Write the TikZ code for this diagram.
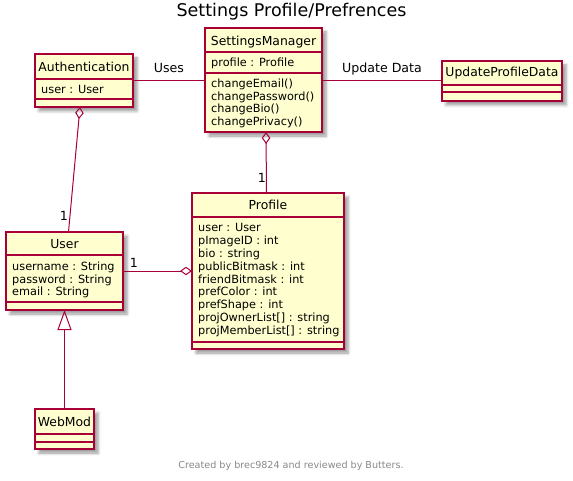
\documentclass[tikz,border=0pt]{standalone}
\usepackage{fontspec}
\setmainfont{DejaVu Sans}
\usetikzlibrary{arrows.meta,shadows.blur}
\definecolor{umlborder}{HTML}{A80036}
\definecolor{umlfill}{HTML}{FEFECE}
\definecolor{footgray}{HTML}{888888}
\begin{document}
\begin{tikzpicture}[x=1pt,y=-1pt,
  cls/.style={draw=umlborder, fill=umlfill, line width=1.5pt, anchor=north west,
    inner sep=0pt, outer sep=0pt,
    blur shadow={shadow xshift=4pt, shadow yshift=-4pt, shadow blur radius=3pt, shadow opacity=40}},
  divline/.style={draw=umlborder, line width=1.5pt},
  cname/.style={anchor=base, inner sep=0pt, font=\fontsize{12.4}{14}\selectfont},
  attr/.style={anchor=base west, inner sep=0pt, font=\fontsize{11.3}{12.8}\selectfont},
  conn/.style={draw=umlborder, line width=1pt},
  lbl/.style={anchor=base, inner sep=0pt, font=\fontsize{12.6}{14}\selectfont},
  agg/.style={{Diamond[open,length=12pt,width=8.5pt]}-},
  gen/.style={-{Triangle[open,length=20pt,width=14pt]}}
]
\useasboundingbox (0,0) rectangle (573,481);

% title
\node[anchor=base, inner sep=0pt, font=\fontsize{17.5}{20}\selectfont] (title) at (291.5,17) {Settings Profile/Prefrences};

% Authentication
\node[cls, minimum width=98pt, minimum height=53pt] (auth) at (35,54) {};
\draw[divline] (35,79) -- (133,79);
\draw[divline] (35,99) -- (133,99);
\node[cname] (authn) at (84,71.3) {Authentication};
\node[attr] (autha) at (41,93.3) {\begin{tabular}[t]{@{}l@{}}user : User\end{tabular}};

% SettingsManager
\node[cls, minimum width=117pt, minimum height=104pt] (sm) at (205,28) {};
\draw[divline] (205,52) -- (322,52);
\draw[divline] (205,73) -- (322,73);
\node[cname] (smn) at (263.5,45.3) {SettingsManager};
\node[attr] (sma) at (211,66.8) {\begin{tabular}[t]{@{}l@{}}profile : Profile\end{tabular}};
\node[attr] (smm) at (211,87.3) {\begin{tabular}[t]{@{}l@{}}changeEmail()\\changePassword()\\changeBio()\\changePrivacy()\end{tabular}};

% UpdateProfileData
\node[cls, minimum width=120pt, minimum height=40pt] (upd) at (442,61) {};
\draw[divline] (442,85) -- (562,85);
\draw[divline] (442,92) -- (562,92);
\node[cname] (updn) at (502,76.7) {UpdateProfileData};

% User
\node[cls, minimum width=117pt, minimum height=78pt] (user) at (6,232) {};
\draw[divline] (6,255) -- (123,255);
\draw[divline] (6,302) -- (123,302);
\node[cname] (usern) at (64.5,248.3) {User};
\node[attr] (usera) at (12,270.3) {\begin{tabular}[t]{@{}l@{}}username : String\\password : String\\email : String\end{tabular}};

% Profile
\node[cls, minimum width=152pt, minimum height=156pt] (profile) at (192,193) {};
\draw[divline] (192,217) -- (344,217);
\draw[divline] (192,342) -- (344,342);
\node[cname] (profilen) at (268,209.5) {Profile};
\node[attr] (profilea) at (198,232) {\begin{tabular}[t]{@{}l@{}}user : User\\pImageID : int\\bio : string\\publicBitmask : int\\friendBitmask : int\\prefColor : int\\prefShape : int\\projOwnerList[] : string\\projMemberList[] : string\end{tabular}};

% WebMod
\node[cls, minimum width=59pt, minimum height=40pt] (webmod) at (35,409) {};
\draw[divline] (35,434) -- (94,434);
\draw[divline] (35,442) -- (94,442);
\node[cname] (webmodn) at (64.5,426) {WebMod};

% connectors
\draw[conn] (auth.east) -- (auth.east -| sm.west);
\node[lbl] (uses) at (169,73) {Uses};
\draw[conn] (upd.west -| sm.east) -- (upd.west);
\node[lbl] (updl) at (382,73) {Update Data};
\draw[conn, agg] ([xshift=-4pt]auth.south) -- ([xshift=4pt]user.north);
\node[lbl] (m1) at (64,220.7) {1};
\draw[conn, agg] ([xshift=2.5pt]sm.south) -- ([xshift=-1.5pt]profile.north);
\node[lbl] (m2) at (262,182.7) {1};
\draw[conn, agg] (profile.west) -- (user.east);
\node[lbl] (m3) at (134,267.3) {1};
\draw[conn, gen] (webmod.north) -- (user.south);

% footer
\node[anchor=base, inner sep=0pt, text=footgray, font=\fontsize{9.6}{11}\selectfont] (footer) at (291,468.3) {Created by brec9824 and reviewed by Butters.};
\end{tikzpicture}
\end{document}
